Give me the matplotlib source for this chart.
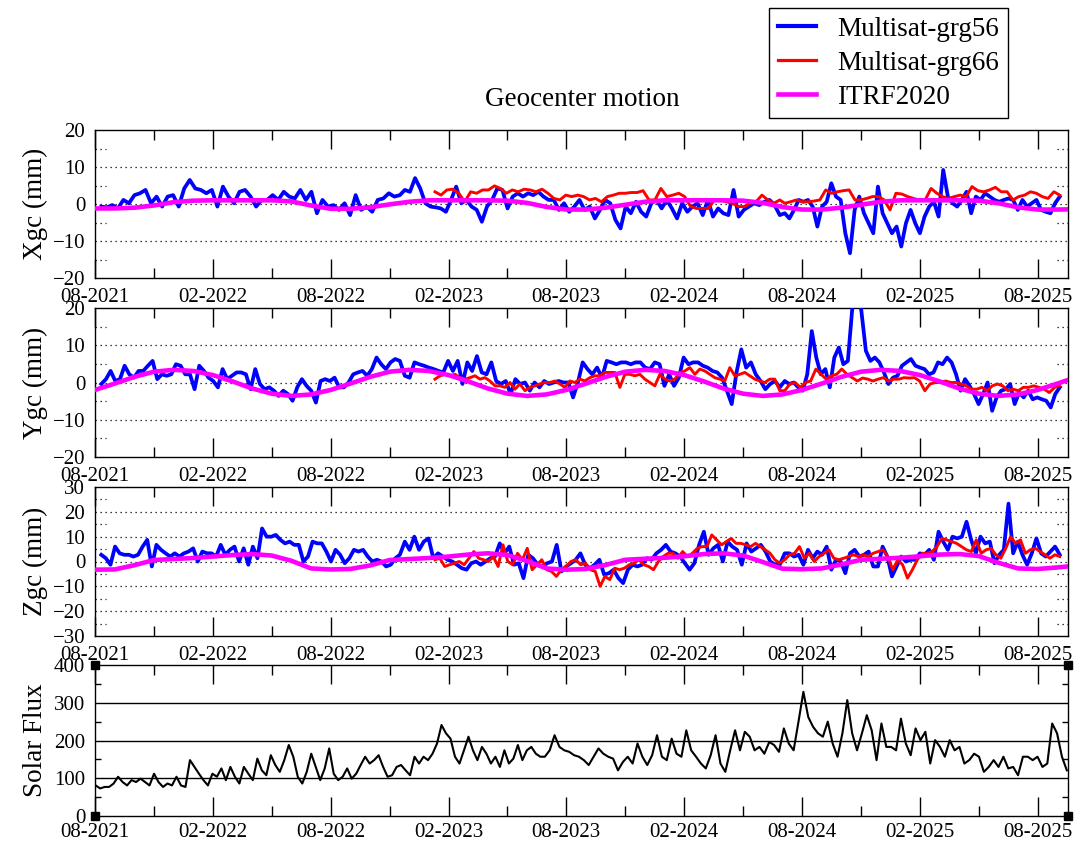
import numpy as np
import matplotlib.pyplot as plt
from matplotlib.lines import Line2D

plt.rcParams['font.family'] = ['Liberation Serif', 'DejaVu Serif']

# time spans (decimal years) of the pieces
blue_span = [(2021.61, 2022.877), (2022.898, 2024.489), (2024.51, 2025.677)]
red_span = [(2023.026, 2024.489), (2024.51, 2025.677)]
flux_span = [(2021.586, 2023.473), (2023.492, 2025.707)]
itrf_t0 = 2021 + 7 / 12   # monthly values from 08-2021

# Multisat-grg56, X (mm)
x56_a = [-0.7, -0.9, -0.3, -1.2, 1.1, 0.2, 2.4, 2.9, 3.8, 0.2, 2.0, -0.7, 2.0, 2.4, -0.7, 4.2, 6.5, 4.2, 3.8, 2.9,
         3.8, -0.7, 4.7, 2.0, 0.2, 3.3, 3.8, 2.0, -0.7, 1.1, 1.1, 2.4, 1.1, 3.3, 2.0, 1.5, 3.8, 1.1, 3.3, -2.5,
         1.1, -0.7, -0.3, -1.6, 0.2, -3.0, 2.4, -1.6, -0.7, -2.1, 1.1, 1.5, 2.9, 2.0, 2.4]
x56_b = [3.8, 3.3, 7.0, 4.2, 0.2, -0.7, -0.9, -1.2, -2.1, 1.1, 4.7, 0.2, 1.1, -0.7, -1.6, -4.8, -0.7, 1.1, 4.2, 3.8,
         -1.2, 2.0, 2.9, 2.0, 2.9, 2.4, 3.3, 2.0, 1.1, 1.1, -1.6, 0.2, -2.1, -0.7, 1.1, -1.6, -0.7, -3.9, -1.6, 1.1,
         0.2, -4.3, -6.6, -0.7, -2.5, 0.6, -2.1, -3.4, 0.2, 1.1, -1.2, 1.1, -1.2, -3.9, 0.2, -2.1, -0.7, 0.2, -3.0,
         1.1, -3.4, -1.2, -2.5, -3.0, 3.8, -3.4, -1.6, -0.7, 0.2, -0.3, 0.6, 1.1, -0.3, -3.0]
x56_c = [-2.5, -3.9, -1.6, 1.1, 0.6, 1.1, -0.7, -6.1, -0.7, 0.6, 5.6, 2.0, 1.1, -7.9, -13.3, -1.6, 2.0, -2.5, -5.2,
         -7.9, 4.7, -2.5, -5.2, -7.9, -6.1, -11.5, -5.2, -1.6, -5.2, -7.9, -3.4, -0.7, 0.6, -3.4, 9.2, 2.0, 0.2,
         -0.7, 1.1, 3.3, -2.5, 2.0, 1.1, 2.9, 2.0, 1.1, 0.6, 1.1, 1.5, 1.1, -1.6, 1.1, -0.7, 0.2, 1.1, -1.6, -2.1,
         -2.5, 0.2, 2.0]
# Multisat-grg66, X (mm)
x66_a = [3.3, 2.4, 3.8, 4.0, 2.9, 0.6, 3.3, 2.9, 3.8, 3.8, 4.9, 4.2, 2.9, 3.8, 3.3, 4.0, 3.8, 3.3, 4.0, 2.9, 1.5,
         1.1, 2.4, 2.0, 2.4, 2.0, 1.1, 1.5, 0.6, 2.0, 2.4, 2.9, 2.9, 3.1, 3.1, 3.6, 1.1, 1.1, 4.2, 2.0, 2.4, 2.9,
         2.0, -0.7, -1.2, -1.2, -1.2, 1.1, 1.1, 0.6, 0.2, -0.7, -0.7, 0.2, 0.6, 2.4, 1.1, 0.2, 1.1]
x66_b = [0.2, 0.6, 1.1, 0.6, 0.6, 0.8, 1.1, 3.8, 2.9, 3.3, 3.6, 3.8, 1.1, 1.1, 1.5, 2.0, 2.0, 1.1, -1.6, 2.9, 2.7,
         2.0, 1.5, 1.1, 1.1, 4.2, 2.9, 2.0, 1.5, 2.0, 2.4, 2.0, 4.7, 3.6, 3.3, 3.8, 4.5, 3.3, 3.3, 1.1, 2.0, 2.4,
         3.3, 2.9, 2.0, 1.5, 3.3, 2.4]

# Multisat-grg56, Y (mm)
y56_a = [-0.4, 0.9, 3.1, 0.4, 0.9, 4.5, 2.2, 1.3, 3.1, 3.1, 4.5, 5.8, 0.9, 2.2, 1.8, 2.2, 4.9, 4.5, 2.2, 2.2, -1.8,
         4.5, 3.1, 1.3, 0.4, -1.3, 3.6, 0.9, 1.8, 2.7, 2.7, 2.2, -1.8, 3.6, -0.4, -1.8, -1.3, -2.2, -3.6, -2.2,
         -3.1, -4.9, -1.3, 0.9, -0.9, -2.2, -5.4, 0.4, 0.9, 0.4, 1.3, -1.3, -1.3, 0.0, 2.2, 2.7, 3.1, 1.8, 3.6,
         6.7, 4.9, 3.6, 5.4, 6.3, 5.8]
y56_b = [1.8, 1.3, 5.4, 4.9, 4.5, 4.0, 3.6, 3.1, 2.7, 5.8, 3.1, 5.8, -0.4, 5.4, 3.1, 7.1, 2.7, 2.2, 5.4, 0.4, -0.4,
         0.4, -3.1, 0.9, -0.4, 0.0, -2.2, 0.0, -1.3, 0.4, -0.4, 0.0, 0.4, 0.0, 0.0, -4.0, 0.0, 5.4, 3.6, 2.2, 4.0,
         1.3, 5.8, 5.4, 4.9, 5.4, 5.4, 4.9, 5.4, 5.4, 4.0, 3.6, 5.4, 4.9, -0.9, 2.2, -0.9, 1.3, 6.7, 4.9, 5.4, 5.4,
         4.5, 4.0, 3.1, 2.7, 1.3, -2.2, -5.8, 2.7, 8.9, 4.0, 5.4, 2.2, 0.4, -1.8, -0.4, 0.4, -1.3]
y56_c = [0.4, -0.4, 0.0, -1.3, -2.2, 2.2, 13.8, 6.7, 2.2, 3.6, -1.3, 6.7, 9.4, 4.9, 5.8, 20.1, 26.3, 19.2, 8.5, 5.8,
         6.7, 5.4, 2.7, -0.4, 1.3, 1.8, 4.5, 5.4, 6.3, 4.5, 4.0, 3.6, 2.2, 2.7, 5.4, 4.9, 6.7, 5.4, 2.2, -2.2, 0.9,
         -0.9, -3.1, -5.8, -3.1, 0.0, -7.6, -4.0, -2.2, -1.8, -0.4, -5.8, -2.7, -4.0, -2.2, -4.5, -4.0, -4.5, -4.9,
         -6.7, -3.1, -1.3]
# Multisat-grg66, Y (mm)
y66_a = [0.9, 1.8, 2.2, 1.8, 2.2, 1.3, 0.9, 1.3, 1.8, 0.9, 1.3, 0.4, -0.9, -0.9, -1.3, 0.0, -1.8, -0.4, -2.2, -1.3,
         -0.9, -0.4, 0.0, 0.0, 0.4, -0.4, -1.3, 0.4, 0.0, 0.9, 0.4, 1.3, 1.8, 1.8, 2.7, 2.7, 2.7, -1.3, 2.2, 2.2,
         1.8, 2.2, 0.9, 0.0, -0.9, 2.2, 0.9, 0.4, 0.9, 2.7, 3.1, 4.0, 2.2, 3.6, 3.1, 2.2, 1.3, 0.9, 0.4, 4.0, 1.8,
         2.2, 2.7, 1.8, 0.9, 0.4, 0.0, 0.9, 0.9, -2.2]
y66_b = [-2.2, -0.4, 0.0, -1.3, 0.0, 0.4, 3.6, 2.2, 0.9, 1.8, 2.2, 3.6, 2.2, 1.3, 0.4, 1.2, 0.9, 0.4, 0.9, 1.3, 0.4,
         0.9, 0.9, 1.3, 1.2, 1.3, 0.4, -2.2, -0.4, 0.0, 0.0, 0.4, 0.0, 0.0, -0.4, -0.9, -1.8, -1.8, -1.3, -2.2,
         -0.9, -0.4, -0.9, -2.2, -1.8, -2.2, -1.3, -1.3, -0.9, -1.3, -1.8, -2.7, -1.3, -0.9]

# Multisat-grg56, Z (mm)
z56_a = [2.7, 1.3, -1.3, 6.0, 3.3, 2.7, 2.7, 2.0, 2.7, 6.0, 8.7, -2.0, 6.7, 4.7, 3.3, 2.0, 3.3, 2.0, 3.3, 4.0, 5.3,
         0.0, 4.0, 3.3, 3.3, 2.0, 6.7, 2.7, 4.7, 6.0, 0.0, 5.3, -1.3, 6.0, 1.3, 13.3, 10.0, 10.0, 10.7, 8.7, 7.3,
         8.0, 6.7, 6.7, 0.0, 2.0, 8.0, 7.3, 7.3, 4.0, 0.0, 4.7, 2.7, -0.7, 1.3, 4.7, 4.0, 4.7, 2.0, 0.0, 0.7, 0.0,
         -2.0, -1.3, 1.3, 2.7]
z56_b = [8.0, 4.7, 10.0, 4.7, 8.0, 9.3, 1.3, 3.3, 2.0, 0.7, 0.0, -1.3, -2.7, -3.3, -0.7, 0.0, -1.3, 0.0, 1.3, 2.0,
         7.3, 3.3, 6.0, -1.3, -0.7, -6.7, 2.7, 1.3, -1.3, -2.0, -0.7, 0.0, 6.7, -4.0, -2.0, -0.7, 0.7, 3.3, -1.3,
         -2.7, -1.3, 0.7, -5.3, -4.7, -3.3, -6.7, -8.7, -3.3, -1.3, -2.0, -1.3, 1.3, 0.7, 3.3, 4.7, 6.7, 4.0, 3.3,
         2.0, -0.7, -3.3, -0.7, 6.7, 12.0, 2.7, 5.3, 6.7, 0.0, 8.0, 6.0, 4.7, -1.3, 7.3, 4.0, 5.3, 6.7, 4.0, 0.0,
         -1.3, -1.3]
z56_c = [3.3, 3.3, 2.0, 2.7, -1.3, 4.7, 1.3, 4.0, 2.7, 6.0, -3.3, 0.7, 0.0, -4.7, 3.3, 4.7, 2.0, 2.7, 4.0, -2.0,
         -2.0, 6.0, 2.0, -6.0, -2.0, 2.0, 0.0, 0.7, 0.7, 3.3, 2.7, 4.7, 0.7, 12.0, 8.0, 4.7, 10.0, 9.3, 10.0, 16.0,
         8.7, 3.3, 10.0, 7.3, 8.0, -0.7, 2.7, 4.7, 23.3, 3.3, 8.0, 2.7, -1.3, 3.3, 9.3, 3.3, 2.0, 4.0, 6.0, 2.7]
# Multisat-grg66, Z (mm)
z66_a = [0.7, 1.3, -2.0, -1.3, -0.7, 0.0, -1.3, 1.3, 4.0, 1.3, 0.7, 0.0, 2.0, -2.0, 6.7, 0.0, -1.3, 3.3, 0.7, 5.3,
         -3.3, -1.3, 0.7, -3.3, -4.0, -6.0, -3.3, -2.0, 0.0, 0.7, -1.3, -0.7, -3.3, -4.0, -10.0, -6.0, -7.3, -2.7,
         -3.3, -2.7, -1.3, -0.7, 0.7, -1.3, -2.0, -3.3, 0.0, 2.0, 3.3, 3.3, 1.3, 4.0, 2.0, 3.3, 5.3, 6.0, 6.0, 10.7,
         8.7, 6.7, 8.0, 9.3, 7.3, 7.3, 6.7, 6.0, 7.3, 6.0, 4.7, 3.3, 0.7, -0.7]
z66_b = [0.7, 2.7, 3.3, 6.0, 1.3, 3.3, 0.0, 2.0, 3.3, 4.7, 1.3, 0.7, 1.3, 2.0, 2.7, 2.0, 2.7, 2.0, 3.3, 4.0, 4.7,
         2.0, -3.3, 0.7, -1.3, -6.7, -3.3, 0.7, 3.3, 3.3, 4.0, 6.0, 9.3, 8.7, 8.0, 7.3, 6.0, 4.7, 4.0, 8.7, 3.3,
         4.7, 5.3, 2.7, 1.3, 5.3, 10.0, 7.3, 8.7, 3.3, 4.7, 5.3, 4.0, 2.7, 1.3, 2.7, 2.0]

# ITRF2020 model, monthly from 08-2021 to 10-2025 (mm)
x_itrf = [-1.2, -1.2, -1.0, -0.4, 0.5,
          0.9, 1.0, 1.0, 1.0, 1.0, 0.7, -0.4, -1.3, -1.3, -0.9, -0.1, 0.6,
          1.0, 1.0, 1.0, 1.0, 0.9, 0.3, -0.8, -1.5, -1.5, -1.0, -0.2, 0.6,
          1.0, 1.0, 1.0, 1.0, 0.9, 0.3, -0.8, -1.5, -1.5, -1.0, -0.2, 0.6,
          1.0, 1.0, 1.0, 1.0, 0.9, 0.2, -0.9, -1.5, -1.5, -1.4]
y_itrf = [-2.0, -0.3, 1.5, 2.9, 3.4,
          3.1, 2.0, 0.3, -1.6, -3.0, -3.6, -3.2, -2.0, -0.3, 1.5, 2.9, 3.4,
          3.1, 2.0, 0.3, -1.6, -3.0, -3.6, -3.2, -2.0, -0.3, 1.5, 2.9, 3.4,
          3.1, 2.0, 0.3, -1.6, -3.0, -3.6, -3.2, -2.0, -0.3, 1.5, 2.9, 3.4,
          3.1, 2.0, 0.3, -1.6, -3.0, -3.6, -3.2, -2.0, -0.3, 1.5]
z_itrf = [-3.3, -3.2, -1.5, 0.6, 1.0,
          1.4, 2.0, 2.6, 3.0, 2.4, 0.3, -2.8, -3.2, -3.0, -1.6, 0.6, 1.0,
          1.4, 2.0, 2.8, 3.3, 2.6, 0.2, -2.8, -3.3, -3.0, -1.4, 0.7, 1.1,
          1.5, 2.1, 3.0, 3.3, 2.4, -0.2, -2.9, -3.1, -2.8, -1.2, 0.7, 1.1,
          1.5, 2.1, 2.8, 3.0, 2.2, -0.5, -2.8, -3.0, -2.4, -1.6]

# Solar flux
flux_a = [81, 73, 77, 77, 86, 104, 90, 81, 95, 90, 99, 90, 81, 112, 90, 77, 86, 81, 104, 81, 77, 148, 130, 112, 95,
          81, 112, 104, 126, 95, 130, 104, 86, 130, 112, 95, 152, 121, 108, 161, 135, 117, 148, 188, 157, 104, 86,
          117, 165, 130, 95, 126, 179, 112, 95, 104, 126, 99, 112, 135, 157, 139, 148, 161, 130, 104, 108, 130, 135,
          121, 108, 157, 139, 157, 148, 165, 192, 241, 219, 205, 157, 139, 174, 210, 174, 148, 183, 165, 139, 157,
          130, 174, 139, 152, 188, 148, 174, 183, 165, 157]
flux_b = [157, 174, 214, 183, 174, 170, 161, 157, 148, 135, 157, 179, 165, 157, 152, 121, 143, 157, 139, 192, 157,
          135, 161, 214, 157, 148, 205, 165, 157, 227, 174, 157, 139, 126, 161, 214, 139, 117, 174, 227, 174, 223,
          210, 174, 183, 165, 196, 188, 170, 232, 192, 174, 250, 329, 262, 236, 219, 210, 250, 192, 157, 219, 307,
          219, 174, 219, 267, 227, 148, 245, 183, 183, 174, 258, 192, 161, 232, 201, 223, 139, 201, 183, 157, 201,
          174, 183, 139, 148, 165, 157, 117, 130, 148, 130, 157, 126, 130, 108, 157, 157, 148, 157, 130, 139, 245,
          219, 157, 121]

tick_labels = ['08-2021', '02-2022', '08-2022', '02-2023', '08-2023', '02-2024', '08-2024', '02-2025', '08-2025']


def epochs(spans, parts):
    return np.concatenate([np.linspace(a, b, len(p)) for (a, b), p in zip(spans, parts)])


W, H = 1086, 848
fig = plt.figure(figsize=(W / 100, H / 100), dpi=100)


def box(l, t, r, b):
    return [l / W, 1 - b / H, (r - l) / W, (b - t) / H]


xmin, xmax = 2021 + 7 / 12, 2025.712
major = [2021 + 7 / 12 + 0.5 * i for i in range(len(tick_labels))]
minor = [2021 + 10 / 12 + 0.5 * i for i in range(8)]


def style_x(ax):
    ax.set_xlim(xmin, xmax)
    ax.set_xticks(major)
    ax.set_xticklabels(tick_labels)
    ax.set_xticks(minor, minor=True)
    ax.tick_params(axis='x', which='major', direction='in', top=True, length=13.5, width=1, pad=7, labelsize=15)
    ax.tick_params(axis='x', which='minor', direction='in', top=True, length=7, width=1)
    for s in ax.spines.values():
        s.set_linewidth(1)


panels = [
    ('Xgc (mm)', 20, [x56_a, x56_b, x56_c], [x66_a, x66_b], x_itrf, box(95, 130, 1068, 278)),
    ('Ygc (mm)', 20, [y56_a, y56_b, y56_c], [y66_a, y66_b], y_itrf, box(95, 308, 1068, 457)),
    ('Zgc (mm)', 30, [z56_a, z56_b, z56_c], [z66_a, z66_b], z_itrf, box(95, 487, 1068, 636)),
]

for label, lim, blue_parts, red_parts, itrf, rect in panels:
    ax = fig.add_axes(rect)
    ax.plot(epochs(blue_span, blue_parts), np.concatenate(blue_parts), color='#0000ff', lw=2.7, zorder=3)
    ax.plot(epochs(red_span, red_parts), np.concatenate(red_parts), color='#ff0000', lw=2.1, zorder=4)
    t_itrf = itrf_t0 + np.arange(len(itrf)) / 12
    ax.plot(t_itrf, itrf, color='#ff00ff', lw=3.3, zorder=5)
    ax.set_ylim(-lim, lim)
    ax.set_yticks(np.arange(-lim, lim + 1, 10))
    ax.tick_params(axis='y', length=0, pad=7, labelsize=15)
    for v in np.arange(-lim + 10, lim, 10):
        ax.axhline(v, color='k', lw=0.9, ls=(0, (1, 3)), zorder=1)
    for v in np.arange(-lim + 5, lim, 10):
        ax.axhline(v, xmin=0, xmax=0.011, color='k', lw=0.9, ls=(0, (1, 3)), zorder=1)
        ax.axhline(v, xmin=0.989, xmax=1, color='k', lw=0.9, ls=(0, (1, 3)), zorder=1)
    style_x(ax)
    ax.set_ylabel(label, fontsize=19.5)
    ax.yaxis.set_label_coords(-0.048, 0.5)

# solar flux panel
ax = fig.add_axes(box(95, 665, 1068, 816))
ax.plot(epochs(flux_span, [flux_a, flux_b]), np.concatenate([flux_a, flux_b]), color='k', lw=1.5, zorder=3)
ax.set_ylim(0, 400)
ax.set_yticks([0, 100, 200, 300, 400])
ax.set_yticks([50, 150, 250, 350], minor=True)
ax.tick_params(axis='y', which='major', length=0, pad=7, labelsize=15)
ax.tick_params(axis='y', which='minor', direction='in', right=True, length=4.5, width=1)
for v in [100, 200, 300]:
    ax.axhline(v, color='k', lw=1.0, zorder=1)
style_x(ax)
ax.tick_params(axis='x', which='major', pad=5)
ax.plot([xmin, xmin, xmax, xmax], [0, 400, 0, 400], 's', color='k', ms=5.5, clip_on=False, zorder=6)
ax.set_ylabel('Solar Flux', fontsize=19.5)
ax.yaxis.set_label_coords(-0.048, 0.5)

fig.text(582 / W, 1 - 100 / H, 'Geocenter motion', ha='center', va='center', fontsize=19.5)

handles = [Line2D([], [], color='#0000ff', lw=3.0),
           Line2D([], [], color='#ff0000', lw=2.3),
           Line2D([], [], color='#ff00ff', lw=3.3)]
leg = fig.legend(handles, ['Multisat-grg56', 'Multisat-grg66', 'ITRF2020'], loc='upper right',
                 bbox_to_anchor=(1008 / W, 1 - 8 / H), fontsize=19.5, frameon=True, fancybox=False,
                 edgecolor='black', framealpha=1, handlelength=1.4, handletextpad=0.8,
                 labelspacing=0.33, borderpad=0.32, borderaxespad=0)
leg.get_frame().set_linewidth(1.0)

fig.savefig('out.png', dpi=100)
